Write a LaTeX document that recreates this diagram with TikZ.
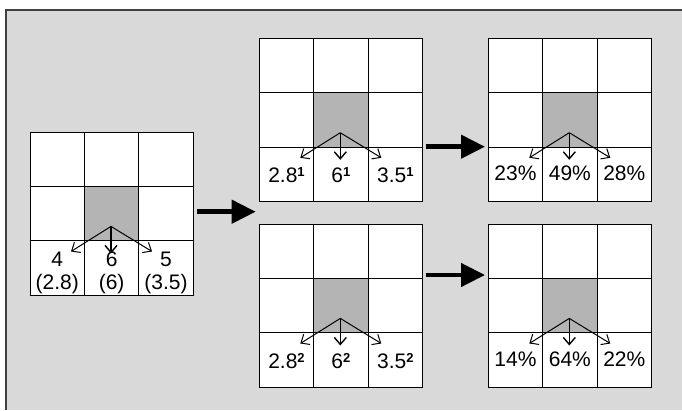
\documentclass[tikz,border=0pt]{standalone}
\usepackage{fontspec}
\setmainfont{Liberation Sans}
\usetikzlibrary{arrows.meta}
\definecolor{bgray}{HTML}{D9D9D9}
\definecolor{cgray}{HTML}{B4B4B4}
\definecolor{fgray}{HTML}{404040}
\newcommand\myexp[1]{\raisebox{6pt}{\fontsize{13}{13}\selectfont\bfseries #1}}
\begin{document}
\begin{tikzpicture}[x=1pt,y=-1pt,
  cell/.style={draw=black, fill=white, minimum size=54.4pt, inner sep=0pt, outer sep=0pt, line width=0.9pt},
  midcell/.style={cell, fill=cgray},
  lbl/.style={font=\fontsize{21}{23}\selectfont, inner sep=0pt, align=center},
  small/.style={-{Straight Barb[length=7pt,width=12pt]}, line width=1pt},
  smalldown/.style={small, line width=1.4pt},
  big/.style={-{Triangle[length=24pt,width=23pt]}, line width=4.5pt}]
\useasboundingbox (0,0) rectangle (682,410);
\fill[white] (0,0) rectangle (682,410);
\fill[bgray] (6,10) rectangle (682,410);
\draw[fgray, line width=1.3pt] (6,410) -- (6,10) -- (682,10);

% grids
\foreach \g/\x/\y in {L/30/132, A/259.3/38.3, B/488.3/38.3, C/259.3/224, D/488.3/224}{
  \foreach \r in {0,1,2}{
    \foreach \c in {0,1,2}{
      \node[cell] (\g-\r\c) at ({\x+27.2+\c*54.4},{\y+27.2+\r*54.4}) {};
    }
  }
  \node[midcell] (\g-mid) at (\g-11) {};
  \coordinate (\g-o) at ({\x+81},{\y+94.4});
  \coordinate (\g-tl) at ({\x+41},{\y+119.5});
  \coordinate (\g-td) at ({\x+81},{\y+121.5});
  \coordinate (\g-tr) at ({\x+122},{\y+119.5});
  \draw[small] (\g-o) -- (\g-tl);
  \draw[smalldown] (\g-o) -- (\g-td);
  \draw[small] (\g-o) -- (\g-tr);
}

% labels
\node[lbl] (l0) at ([yshift=-5pt]L-20) {4\\(2.8)};
\node[lbl] (l1) at ([yshift=-5pt]L-21) {6\\(6)};
\node[lbl] (l2) at ([yshift=-5pt]L-22) {5\\(3.5)};

\node[lbl] (a0) at ([yshift=-1pt]A-20) {2.8\myexp{1}};
\node[lbl] (a1) at ([yshift=-1pt]A-21) {6\myexp{1}};
\node[lbl] (a2) at ([yshift=-1pt]A-22) {3.5\myexp{1}};

\node[lbl] (b0) at ([yshift=1pt]B-20) {23\%};
\node[lbl] (b1) at ([yshift=1pt]B-21) {49\%};
\node[lbl] (b2) at ([yshift=1pt]B-22) {28\%};

\node[lbl] (c0) at ([yshift=-1pt]C-20) {2.8\myexp{2}};
\node[lbl] (c1) at ([yshift=-1pt]C-21) {6\myexp{2}};
\node[lbl] (c2) at ([yshift=-1pt]C-22) {3.5\myexp{2}};

\node[lbl] (d0) at ([yshift=1pt]D-20) {14\%};
\node[lbl] (d1) at ([yshift=1pt]D-21) {64\%};
\node[lbl] (d2) at ([yshift=1pt]D-22) {22\%};

% big arrows
\coordinate (s1) at (196.7,211.7);
\coordinate (e1) at (255.7,211.7);
\coordinate (s2) at (426,146.7);
\coordinate (e2) at (485,146.7);
\coordinate (s3) at (426,275);
\coordinate (e3) at (485,275);
\draw[big] (s1) -- (e1);
\draw[big] (s2) -- (e2);
\draw[big] (s3) -- (e3);
\end{tikzpicture}
\end{document}
